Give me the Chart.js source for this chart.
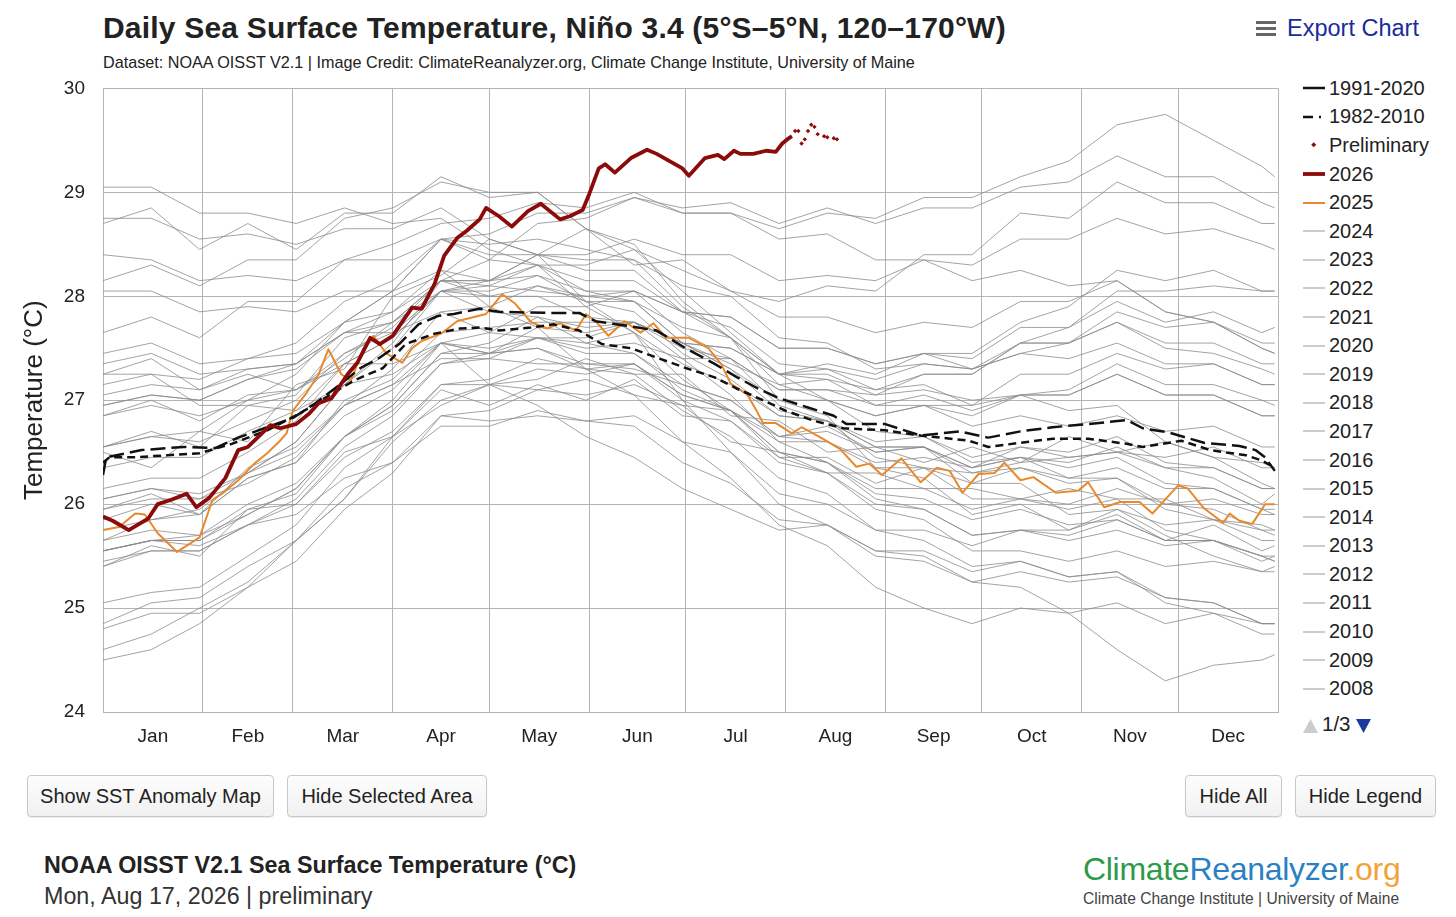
<!DOCTYPE html>
<html>
<head>
<meta charset="utf-8">
<script src="https://cdn.jsdelivr.net/npm/chart.js@4.4.1/dist/chart.umd.min.js"></script>
<style>
  body { margin: 0; width: 1456px; height: 917px; background: #fff; position: relative; overflow: hidden;
         font-family: "Liberation Sans", Arial, Helvetica, sans-serif; color: #222; }
  #title { position: absolute; left: 103px; top: 11px; font-size: 30px; font-weight: bold; white-space: nowrap; letter-spacing: 0.2px; }
  #sub { position: absolute; left: 103px; top: 53px; font-size: 16.2px; white-space: nowrap; }
  #export { position: absolute; left: 1256px; top: 15px; font-size: 23.5px; color: #1b2b9b; display: flex; align-items: center; }
  #export .burger { width: 20px; margin-right: 11px; }
  #export .burger div { height: 3px; background: #666; margin: 3px 0; }
  #wrap { position: absolute; left: 0; top: 59px; width: 1290px; height: 698px; }
  #legend { position: absolute; left: 1303px; top: 74px; }
  .item { height: 28.6px; display: flex; align-items: center; font-size: 20px; white-space: nowrap; }
  .item svg { margin-right: 4px; }
  #pager { position: absolute; left: 1303px; top: 712px; font-size: 20.5px; display: flex; align-items: flex-end; height: 22px; }
  .btn { position: absolute; top: 775px; height: 42px; box-sizing: border-box; border: 1px solid #c8c8c8; border-radius: 4px;
         background: linear-gradient(#fdfdfd, #f1f1f1); font-size: 20px; color: #222; display: flex; align-items: center;
         justify-content: center; box-shadow: 0 1px 1px rgba(0,0,0,0.08); }
  #foot1 { position: absolute; left: 44px; top: 852px; font-size: 23.3px; font-weight: bold; white-space: nowrap; }
  #foot2 { position: absolute; left: 44px; top: 883px; font-size: 23.3px; white-space: nowrap; color: #333; }
  #logo { position: absolute; left: 1083px; top: 851px; font-size: 32px; white-space: nowrap; letter-spacing: -0.3px; }
  #logo2 { position: absolute; left: 1083px; top: 890px; font-size: 15.6px; color: #444; white-space: nowrap; }
</style>
</head>
<body>
<div id="title">Daily Sea Surface Temperature, Niño 3.4 (5°S–5°N, 120–170°W)</div>
<div id="sub">Dataset: NOAA OISST V2.1 | Image Credit: ClimateReanalyzer.org, Climate Change Institute, University of Maine</div>
<div id="export"><div class="burger"><div></div><div></div><div></div></div>Export Chart</div>
<div id="wrap"><canvas id="sstChart" width="1290" height="698"></canvas></div>
<div id="legend"></div>
<div id="pager">
  <svg width="15" height="14" style="margin:0 4px 1px 0"><polygon points="0,14 7.5,0 15,14" fill="#cccccc"/></svg>
  <span style="line-height:20px">1/3</span>
  <svg width="15" height="14" style="margin:0 0 1px 5px"><polygon points="0,0 15,0 7.5,14" fill="#1b3a9b"/></svg>
</div>
<div class="btn" style="left:27px;width:247px">Show SST Anomaly Map</div>
<div class="btn" style="left:287px;width:200px">Hide Selected Area</div>
<div class="btn" style="left:1185px;width:97px">Hide All</div>
<div class="btn" style="left:1295px;width:141px">Hide Legend</div>
<div id="foot1">NOAA OISST V2.1 Sea Surface Temperature (°C)</div>
<div id="foot2">Mon, Aug 17, 2026 | preliminary</div>
<div id="logo"><span style="color:#2c9a48">Climate</span><span style="color:#2b7fc3">Reanalyzer</span><span style="color:#f0a33a">.org</span></div>
<div id="logo2">Climate Change Institute | University of Maine</div>

<script>
// axis helpers (day of year, 0 = Jan 1)
const monthStarts = [0, 31, 59, 90, 120, 151, 181, 212, 243, 273, 304, 334, 365];
const monthMids = [15.5, 45, 74.5, 105, 135.5, 166, 196.5, 227.5, 258, 288.5, 319, 349.5];
const monthLabels = ['Jan', 'Feb', 'Mar', 'Apr', 'May', 'Jun', 'Jul', 'Aug', 'Sep', 'Oct', 'Nov', 'Dec'];
const tempTicks = [24, 25, 26, 27, 28, 29, 30];

// 2026 (final data) and preliminary days
const days2026 = [0,3,8,14,17,21,26,29,33,38,42,45,48,52,55,60,64,67,71,76,79,83,86,90,96,99,103,106,110,113,
  117,119,123,127,132,136,142,145,149,151,154,156,159,164,169,172,176,180,182,187,191,193,196,198,202,206,209,211,213,214];
const temp2026 = [25.88,25.84,25.75,25.86,26.0,26.04,26.1,25.97,26.06,26.25,26.52,26.55,26.64,26.76,26.73,26.77,26.87,26.97,27.02,27.25,
  27.36,27.6,27.54,27.62,27.89,27.88,28.12,28.39,28.56,28.63,28.74,28.85,28.77,28.67,28.82,28.89,28.74,28.77,28.83,28.98,
  29.23,29.27,29.19,29.33,29.41,29.37,29.30,29.23,29.16,29.33,29.36,29.32,29.40,29.37,29.37,29.40,29.39,29.47,29.52,29.54];
const daysPrelim = [215,216,217,218,219,220,221,222,224,225,227,228];
const tempPrelim = [29.59,29.59,29.47,29.51,29.59,29.65,29.63,29.56,29.54,29.53,29.52,29.51];

// 2025
const days2025 = [0,5,10,13,17,23,30,34,37,42,47,51,55,57,59,63,67,70,74,77,81,84,88,93,96,99,105,110,119,124,
  128,133,138,142,147,150,153,157,162,167,171,175,182,188,192,195,197,200,203,205,209,214,217,223,229,234,238,242,248,254,
  259,263,267,272,277,280,285,289,296,303,306,311,316,322,326,334,337,342,348,350,353,357,361,364];
const temp2025 = [25.75,25.78,25.91,25.9,25.72,25.54,25.68,26.04,26.1,26.23,26.39,26.49,26.61,26.68,26.9,27.06,27.25,27.49,27.25,27.19,
  27.5,27.62,27.45,27.36,27.5,27.57,27.64,27.76,27.83,28.02,27.93,27.75,27.69,27.74,27.67,27.83,27.76,27.62,27.76,27.65,
  27.74,27.6,27.6,27.5,27.35,27.16,27.12,27.06,26.9,26.78,26.78,26.68,26.74,26.64,26.53,26.36,26.39,26.28,26.44,26.21,
  26.35,26.32,26.11,26.29,26.3,26.4,26.23,26.26,26.11,26.13,26.21,25.97,26.02,26.02,25.91,26.18,26.15,25.96,25.82,25.91,
  25.84,25.81,26.0,26.0];

// climatologies
const days9120 = [0,1,12,25,35,42,51,59,66,74,80,86,92,98,104,109,117,123,138,148,153,164,172,181,190,197,203,210,219,227,
  231,243,254,266,275,285,295,306,318,323,331,342,353,358,361,364];
const clim9120 = [26.28,26.45,26.52,26.55,26.54,26.64,26.74,26.83,26.97,27.16,27.31,27.41,27.54,27.73,27.81,27.83,27.88,27.85,27.84,27.84,
  27.76,27.71,27.67,27.5,27.35,27.22,27.12,27.02,26.93,26.85,26.77,26.77,26.66,26.7,26.64,26.7,26.74,26.77,26.81,26.73,
  26.69,26.59,26.56,26.52,26.45,26.32];
const days8210 = [0,2,9,20,30,40,51,61,71,78,87,94,103,111,117,123,133,140,148,155,164,172,181,190,197,205,212,221,230,243,
  254,269,275,285,295,306,318,323,335,344,355,360,364];
const clim8210 = [26.4,26.45,26.45,26.47,26.49,26.58,26.71,26.87,27.06,27.19,27.31,27.54,27.64,27.69,27.7,27.67,27.7,27.73,27.67,27.54,
  27.5,27.41,27.31,27.22,27.11,27.0,26.9,26.8,26.73,26.71,26.66,26.61,26.55,26.59,26.63,26.63,26.58,26.55,26.61,26.52,
  26.47,26.42,26.35];

// earlier years, sampled twice a month
const greyDays = [0,15,30,45,60,75,90,105,120,135,150,165,180,195,210,225,240,255,270,285,300,315,330,345,360,364];
const sst1982 = [26.5,26.35,26.7,26.6,27.15,27.3,28.0,28.2,28.55,28.4,28.65,28.3,28.35,28.05,27.95,28.1,28.05,28.4,28.4,28.8,28.75,29.1,28.9,28.9,28.7,28.7];
const sst1983 = [28.7,28.85,28.45,28.7,28.45,28.8,28.8,29.15,28.95,29.0,28.65,28.5,27.95,27.6,27.0,26.85,26.35,26.25,25.9,26.0,25.75,25.9,25.65,25.8,25.55,25.6];
const sst1984 = [25.85,26.0,25.9,26.35,26.55,26.95,27.15,27.4,27.4,27.35,27.35,27.3,27.15,27.0,26.65,26.75,26.5,26.55,26.2,26.2,25.9,25.95,25.7,25.5,25.35,25.4];
const sst1985 = [25.4,25.6,25.5,25.95,26.0,26.5,26.65,27.1,26.95,27.15,27.0,27.2,26.85,26.8,26.45,26.45,26.2,26.35,26.3,26.4,26.45,26.5,26.35,26.25,26.0,26.1];
const sst1986 = [25.95,26.1,25.9,26.25,26.4,27.0,27.2,27.65,27.7,27.75,27.75,27.75,27.55,27.5,27.25,27.35,27.25,27.45,27.4,27.7,27.7,27.95,27.75,27.85,27.65,27.7];
const sst1987 = [27.65,27.8,27.6,27.95,27.95,28.35,28.5,28.7,28.75,28.9,28.85,29.0,28.8,28.8,28.55,28.6,28.35,28.35,28.15,28.25,28.1,28.15,27.85,27.75,27.5,27.45];
const sst1988 = [27.25,27.4,27.1,27.25,27.1,27.35,27.35,27.55,27.15,26.95,26.65,26.45,26.15,25.95,25.75,25.8,25.55,25.5,25.25,25.2,24.95,24.6,24.3,24.45,24.5,24.55];
const sst1989 = [24.5,24.6,24.85,25.2,25.65,26.05,26.6,27.0,27.15,27.2,27.4,27.25,27.25,26.85,26.8,26.5,26.55,26.4,26.55,26.4,26.65,26.5,26.6,26.45,26.4,26.35];
const sst1990 = [26.55,26.7,26.55,26.95,27.05,27.6,27.75,28.15,28.1,28.05,28.0,27.95,27.7,27.6,27.25,27.25,27.05,27.1,27.0,27.05,27.05,27.25,27.05,27.05,26.85,26.85];
const sst1991 = [26.85,27.0,26.8,27.05,27.1,27.4,27.75,28.15,28.15,28.4,28.35,28.35,28.1,28.0,27.6,27.55,27.3,27.35,27.3,27.55,27.7,28.05,28.05,28.1,28.05,28.05];
const sst1992 = [28.15,28.3,28.1,28.35,28.35,28.75,28.85,29.1,29.0,29.0,28.65,28.45,28.05,27.65,27.25,27.0,26.7,26.65,26.45,26.55,26.45,26.5,26.45,26.55,26.35,26.35];
const sst1993 = [26.55,26.65,26.7,27.0,27.25,27.75,28.05,28.55,28.5,28.55,28.45,28.35,27.9,27.6,27.25,27.2,26.95,26.95,26.75,26.85,26.75,26.85,26.7,26.75,26.55,26.55];
const sst1994 = [26.55,26.65,26.6,26.8,27.0,27.45,27.7,28.15,28.15,28.3,28.15,28.15,27.85,27.7,27.35,27.3,27.2,27.35,27.3,27.45,27.55,27.85,27.7,27.75,27.55,27.55];
const sst1995 = [27.45,27.55,27.35,27.4,27.45,27.75,27.85,28.15,28.0,28.0,27.8,27.75,27.4,27.05,26.6,26.4,26.05,25.95,25.7,25.75,25.7,25.85,25.65,25.65,25.45,25.5];
const sst1996 = [25.55,25.65,25.65,25.9,26.15,26.65,26.95,27.45,27.45,27.6,27.45,27.45,27.15,27.0,26.65,26.6,26.35,26.35,26.2,26.35,26.25,26.35,26.15,26.15,25.95,25.95];
const sst1997 = [25.95,26.05,26.05,26.3,26.6,27.15,27.55,28.15,28.35,28.7,28.75,28.95,28.85,28.9,28.7,28.85,28.7,28.85,28.85,29.05,29.1,29.35,29.15,29.15,28.9,28.85];
const sst1998 = [28.75,28.75,28.55,28.6,28.5,28.65,28.65,28.85,28.55,28.4,27.95,27.65,27.0,26.5,26.0,25.8,25.5,25.45,25.25,25.35,25.25,25.3,25.1,25.05,24.85,24.85];
const sst1999 = [24.85,25.05,25.1,25.4,25.65,26.15,26.4,26.85,26.8,26.85,26.8,26.75,26.4,26.2,25.85,25.8,25.55,25.55,25.35,25.45,25.3,25.35,25.05,24.95,24.75,24.75];
const sst2000 = [24.6,24.75,25.0,25.25,25.65,26.05,26.65,26.95,27.15,27.1,27.2,27.05,26.95,26.6,26.5,26.3,26.3,26.15,26.15,26.05,26.15,26.05,26.05,25.85,25.8,25.75];
const sst2001 = [25.75,25.85,25.9,26.25,26.4,26.85,27.1,27.55,27.5,27.6,27.55,27.65,27.35,27.15,26.85,26.8,26.55,26.55,26.35,26.45,26.4,26.55,26.35,26.35,26.15,26.15];
const sst2002 = [26.35,26.45,26.45,26.7,26.9,27.35,27.6,28.05,28.1,28.3,28.3,28.45,28.25,28.05,27.8,27.8,27.65,27.75,27.7,27.95,27.95,28.15,27.85,27.75,27.5,27.45];
const sst2003 = [27.35,27.45,27.25,27.3,27.35,27.65,27.65,27.85,27.65,27.6,27.5,27.55,27.4,27.4,27.1,27.1,26.95,27.05,26.9,27.05,27.05,27.25,27.05,27.05,26.85,26.85];
const sst2004 = [26.85,26.95,26.85,27.0,27.1,27.45,27.65,28.05,28.0,28.1,28.0,28.05,27.85,27.8,27.5,27.5,27.35,27.45,27.3,27.45,27.4,27.55,27.35,27.35,27.15,27.15];
const sst2005 = [27.05,27.15,27.1,27.3,27.35,27.65,27.85,28.25,28.15,28.2,27.95,27.85,27.45,27.2,26.85,26.8,26.6,26.65,26.4,26.45,26.25,26.25,25.95,25.85,25.65,25.65];
const sst2006 = [25.55,25.65,25.65,25.95,26.1,26.65,26.95,27.45,27.55,27.8,27.7,27.75,27.55,27.35,27.15,27.2,27.1,27.25,27.25,27.55,27.55,27.75,27.55,27.55,27.35,27.35];
const sst2007 = [27.25,27.25,26.95,26.95,26.9,27.15,27.25,27.55,27.45,27.5,27.3,27.25,26.9,26.65,26.25,26.1,25.75,25.65,25.4,25.45,25.3,25.35,25.1,25.05,24.85,24.85];
const sst2008 = [24.8,24.95,24.95,25.2,25.45,25.95,26.3,26.85,26.9,27.1,27.05,27.15,26.95,26.9,26.65,26.7,26.5,26.55,26.3,26.35,26.2,26.25,26.0,25.95,25.75,25.75];
const sst2009 = [25.65,25.75,25.7,25.9,26.15,26.65,27.0,27.55,27.65,27.9,27.9,28.05,27.85,27.8,27.5,27.5,27.35,27.45,27.45,27.75,27.9,28.25,28.15,28.25,28.05,28.05];
const sst2010 = [28.05,28.05,27.85,27.9,27.85,28.05,28.05,28.25,27.9,27.7,27.3,27.05,26.6,26.25,25.8,25.6,25.2,25.0,24.85,25.0,24.95,25.05,24.85,24.95,24.85,24.85];
const sst2011 = [25.05,25.15,25.2,25.5,25.8,26.35,26.65,27.15,27.15,27.3,27.25,27.35,27.0,26.8,26.4,26.3,26.0,25.95,25.7,25.75,25.65,25.75,25.6,25.65,25.5,25.5];
const sst2012 = [25.55,25.65,25.7,26.0,26.2,26.65,26.9,27.35,27.4,27.6,27.6,27.75,27.55,27.5,27.25,27.3,27.1,27.15,26.95,27.05,26.9,26.95,26.6,26.45,26.2,26.15];
const sst2013 = [26.05,26.15,26.1,26.3,26.5,26.95,27.15,27.55,27.45,27.5,27.35,27.35,27.05,26.9,26.6,26.6,26.4,26.45,26.35,26.55,26.5,26.65,26.4,26.35,26.15,26.15];
const sst2014 = [26.05,26.15,26.05,26.2,26.45,26.95,27.3,27.85,27.9,28.1,27.95,27.95,27.55,27.3,27.0,27.0,26.85,26.95,26.95,27.25,27.25,27.45,27.3,27.35,27.15,27.15];
const sst2015 = [26.95,27.05,27.0,27.2,27.35,27.75,28.05,28.55,28.6,28.8,28.8,28.95,28.8,28.8,28.65,28.8,28.75,28.95,28.95,29.15,29.3,29.65,29.75,29.5,29.25,29.15];
const sst2016 = [29.05,29.05,28.8,28.8,28.7,28.85,28.7,28.75,28.45,28.3,27.9,27.65,27.2,26.9,26.5,26.4,26.15,26.15,25.95,26.05,26.0,26.15,26.0,26.05,25.9,25.9];
const sst2017 = [26.15,26.25,26.25,26.5,26.8,27.35,27.6,28.05,28.05,28.2,28.05,28.05,27.65,27.4,26.95,26.8,26.45,26.35,26.05,26.05,25.95,26.05,25.75,25.65,25.5,25.45];
const sst2018 = [25.55,25.65,25.6,25.8,26.05,26.55,26.85,27.35,27.45,27.7,27.65,27.75,27.5,27.4,27.1,27.1,27.05,27.25,27.25,27.55,27.55,27.75,27.5,27.45,27.3,27.25];
const sst2019 = [27.15,27.25,27.2,27.4,27.55,27.95,28.15,28.55,28.4,28.4,28.25,28.25,27.85,27.6,27.15,27.0,26.85,26.95,26.85,27.05,27.1,27.35,27.15,27.15,27.0,26.95];
const sst2020 = [26.95,27.05,27.0,27.2,27.3,27.65,27.75,28.05,27.85,27.8,27.55,27.45,27.1,26.9,26.45,26.3,25.95,25.85,25.55,25.55,25.45,25.55,25.4,25.45,25.35,25.35];
const sst2021 = [25.4,25.55,25.55,25.8,26.0,26.45,26.7,27.15,27.2,27.4,27.3,27.35,27.05,26.9,26.5,26.4,26.1,26.05,25.85,25.95,25.8,25.85,25.65,25.65,25.5,25.45];
const sst2022 = [25.45,25.55,25.55,25.8,25.9,26.25,26.4,26.75,26.75,26.9,26.8,26.85,26.6,26.5,26.1,26.0,25.75,25.75,25.6,25.75,25.75,25.95,25.8,25.85,25.75,25.7];
const sst2023 = [25.65,25.85,25.95,26.3,26.6,27.15,27.5,28.05,28.15,28.4,28.4,28.55,28.4,28.4,28.15,28.2,28.15,28.35,28.3,28.55,28.55,28.75,28.6,28.65,28.5,28.45];
const sst2024 = [28.4,28.35,28.15,28.2,28.15,28.35,28.35,28.55,28.35,28.3,28.05,27.95,27.55,27.3,26.9,26.8,26.55,26.55,26.35,26.45,26.35,26.45,26.2,26.15,25.95,25.9];

const greyYears = [
  ['2024', sst2024], ['2023', sst2023], ['2022', sst2022], ['2021', sst2021], ['2020', sst2020], ['2019', sst2019],
  ['2018', sst2018], ['2017', sst2017], ['2016', sst2016], ['2015', sst2015], ['2014', sst2014], ['2013', sst2013],
  ['2012', sst2012], ['2011', sst2011], ['2010', sst2010], ['2009', sst2009], ['2008', sst2008], ['2007', sst2007],
  ['2006', sst2006], ['2005', sst2005], ['2004', sst2004], ['2003', sst2003], ['2002', sst2002], ['2001', sst2001],
  ['2000', sst2000], ['1999', sst1999], ['1998', sst1998], ['1997', sst1997], ['1996', sst1996], ['1995', sst1995],
  ['1994', sst1994], ['1993', sst1993], ['1992', sst1992], ['1991', sst1991], ['1990', sst1990], ['1989', sst1989],
  ['1988', sst1988], ['1987', sst1987], ['1986', sst1986], ['1985', sst1985], ['1984', sst1984], ['1983', sst1983],
  ['1982', sst1982]
];

function pts(days, vals) {
  return vals.map((v, i) => ({ x: days[i], y: v }));
}

document.addEventListener('DOMContentLoaded', function () {
  Chart.defaults.font.family = '"Liberation Sans", Arial, Helvetica, sans-serif';
  Chart.defaults.color = '#222';

  const gridColor = '#b4b4b4';

  const datasets = [
    { label: '1991-2020', data: pts(days9120, clim9120), borderColor: '#111', borderWidth: 2.5,
      borderDash: [15, 6], legendDash: [], order: 1 },
    { label: '1982-2010', data: pts(days8210, clim8210), borderColor: '#111', borderWidth: 2.5,
      borderDash: [8, 5], legendDash: [10, 6, 2, 6], order: 1 },
    { label: 'Preliminary', data: pts(daysPrelim, tempPrelim), showLine: false, pointRadius: 2.2,
      pointStyle: 'rectRot', pointBackgroundColor: '#8b0a0a', pointBorderWidth: 0, borderColor: '#8b0a0a', order: 0 },
    { label: '2026', data: pts(days2026, temp2026), borderColor: '#8b0a0a', borderWidth: 3.8, order: 0 },
    { label: '2025', data: pts(days2025, temp2025), borderColor: '#e8892b', borderWidth: 2, order: 2 }
  ];
  greyYears.forEach(([yr, vals]) => {
    datasets.push({ label: yr, data: pts(greyDays, vals), borderColor: 'rgba(140,140,140,0.8)',
      legendColor: '#aaa', borderWidth: 1, order: 3 });
  });

  const ctx = document.getElementById('sstChart').getContext('2d');
  const sstChart = new Chart(ctx, {
    type: 'line',
    data: { datasets: datasets },
    options: {
      responsive: false,
      animation: false,
      layout: { padding: { top: 10, right: 12, left: 0, bottom: 0 } },
      elements: { point: { radius: 0 }, line: { tension: 0, borderJoinStyle: 'round' } },
      plugins: { legend: { display: false }, tooltip: { enabled: false } },
      scales: {
        x: {
          type: 'linear', min: 0, max: 365,
          afterBuildTicks: s => { s.ticks = monthStarts.map(v => ({ value: v })); },
          ticks: { display: false },
          grid: { color: gridColor, drawTicks: false },
          border: { color: gridColor },
          afterFit: s => { s.height = 0; }
        },
        x2: {
          type: 'linear', position: 'bottom', min: 0, max: 365,
          afterBuildTicks: s => { s.ticks = monthMids.map(v => ({ value: v })); },
          ticks: { autoSkip: false, maxRotation: 0, padding: 13, font: { size: 19 },
                   callback: (v, i) => monthLabels[i] },
          grid: { display: false, drawTicks: false },
          border: { display: false },
          afterFit: s => { s.height = 45; }
        },
        y: {
          min: 24, max: 30,
          afterBuildTicks: s => { s.ticks = tempTicks.map(v => ({ value: v })); },
          ticks: { padding: 18, font: { size: 19 } },
          grid: { color: gridColor, drawTicks: false },
          border: { color: gridColor },
          title: { display: true, text: 'Temperature (°C)', font: { size: 26 }, padding: { top: 19, bottom: 0 } },
          afterFit: s => { s.width = 103; }
        }
      }
    }
  });

  // legend page 1 of 3, built from the chart's datasets
  const legendEl = document.getElementById('legend');
  sstChart.data.datasets.slice(0, 22).forEach(ds => {
    const row = document.createElement('div');
    row.className = 'item';
    let sample;
    if (ds.showLine === false) {
      sample = '<svg width="22" height="14"><rect x="9" y="5" width="3.5" height="3.5" transform="rotate(45 10.75 6.75)" fill="' +
        ds.pointBackgroundColor + '"/></svg>';
    } else {
      const dash = ds.legendDash ? ds.legendDash.join(',') : '';
      sample = '<svg width="22" height="14"><line x1="0" y1="7" x2="22" y2="7" stroke="' + (ds.legendColor || ds.borderColor) +
        '" stroke-width="' + (ds.borderWidth < 1.5 ? 1.2 : ds.borderWidth) + '" stroke-dasharray="' + dash + '"/></svg>';
    }
    row.innerHTML = sample + '<span>' + ds.label + '</span>';
    legendEl.appendChild(row);
  });
});
</script>
</body>
</html>
